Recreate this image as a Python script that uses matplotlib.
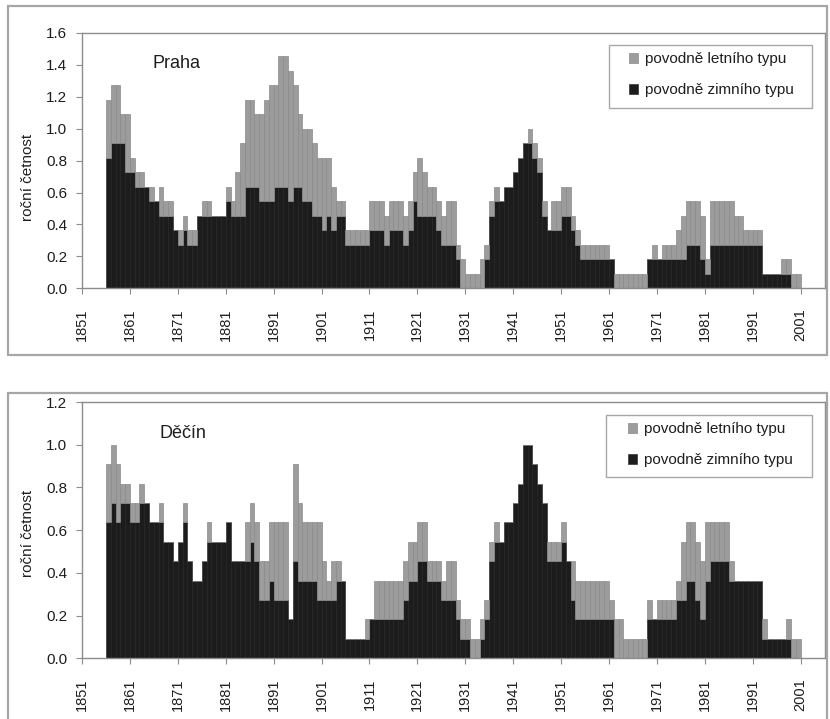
import matplotlib
matplotlib.use("Agg")
import matplotlib.pyplot as plt
from matplotlib.patches import Rectangle
import numpy as np

plt.rcParams['font.family'] = ['Liberation Sans', 'DejaVu Sans']

# ---- data: floods counted in a moving 11-year window (annual frequency = count / 11)
WINDOW = 11
years = list(range(1856, 2001))

praha_total = [
    13, 14, 14, 12, 12, 9, 8, 8, 7, 7, 6, 7, 6, 6, 4, 4, 5, 4, 4, 5,      # 1856-1875
    6, 6, 5, 5, 5, 7, 6, 8, 10, 13, 13, 12, 12, 13, 14, 14, 16, 16, 15, 14,  # 1876-1895
    12, 11, 11, 10, 9, 9, 9, 7, 6, 6, 4, 4, 4, 4, 4, 6, 6, 6, 5, 6,      # 1896-1915
    6, 6, 5, 6, 8, 9, 8, 7, 7, 6, 5, 6, 6, 3, 2, 1, 1, 1, 2, 3,          # 1916-1935
    6, 7, 6, 7, 7, 8, 9, 10, 11, 10, 9, 6, 4, 6, 6, 7, 7, 5, 4, 3,       # 1936-1955
    3, 3, 3, 3, 3, 2, 1, 1, 1, 1, 1, 1, 1, 2, 3, 2, 3, 3, 3, 4,          # 1956-1975
    5, 6, 6, 6, 5, 2, 6, 6, 6, 6, 6, 5, 5, 4, 4, 4, 4, 1, 1, 1,          # 1976-1995
    1, 2, 2, 1, 1,                                                       # 1996-2000
]
praha_winter = [
    9, 10, 10, 10, 8, 8, 7, 7, 7, 6, 6, 5, 5, 5, 4, 3, 4, 3, 3, 5,
    5, 5, 5, 5, 5, 6, 5, 5, 5, 7, 7, 7, 6, 6, 6, 7, 7, 7, 6, 7,
    7, 6, 6, 5, 5, 4, 5, 4, 5, 5, 3, 3, 3, 3, 3, 4, 4, 4, 3, 4,
    4, 4, 3, 4, 6, 5, 5, 5, 5, 4, 3, 3, 3, 2, 0, 0, 0, 0, 0, 2,
    5, 6, 6, 7, 7, 8, 9, 10, 10, 9, 8, 5, 4, 4, 4, 5, 5, 4, 3, 2,
    2, 2, 2, 2, 2, 2, 0, 0, 0, 0, 0, 0, 0, 2, 2, 2, 2, 2, 2, 2,
    2, 3, 3, 3, 2, 1, 3, 3, 3, 3, 3, 3, 3, 3, 3, 3, 3, 1, 1, 1,
    1, 1, 1, 0, 0,
]
decin_total = [
    10, 11, 10, 9, 9, 8, 8, 9, 8, 7, 7, 8, 6, 6, 5, 6, 8, 5, 4, 4,
    5, 7, 6, 6, 6, 7, 5, 5, 5, 7, 8, 7, 5, 5, 7, 7, 7, 7, 2, 10,
    8, 7, 7, 7, 7, 5, 4, 5, 5, 4, 1, 1, 1, 1, 2, 2, 4, 4, 4, 4,
    4, 4, 5, 6, 6, 7, 7, 5, 5, 5, 4, 5, 5, 3, 2, 2, 1, 1, 2, 3,
    6, 7, 6, 7, 7, 8, 9, 11, 11, 10, 9, 8, 6, 6, 6, 7, 5, 5, 4, 4,
    4, 4, 4, 4, 4, 3, 2, 2, 1, 1, 1, 1, 1, 3, 2, 3, 3, 3, 3, 4,
    6, 7, 7, 6, 5, 7, 7, 7, 7, 7, 5, 4, 4, 4, 4, 4, 4, 2, 1, 1,
    1, 1, 2, 1, 1,
]
decin_winter = [
    7, 8, 7, 8, 8, 7, 7, 8, 8, 7, 7, 7, 6, 6, 5, 6, 7, 5, 4, 4,
    5, 6, 6, 6, 6, 7, 5, 5, 5, 5, 6, 5, 3, 3, 4, 3, 3, 3, 2, 5,
    4, 4, 4, 4, 3, 3, 3, 3, 4, 4, 1, 1, 1, 1, 1, 2, 2, 2, 2, 2,
    2, 2, 3, 4, 4, 5, 5, 4, 4, 4, 3, 3, 3, 2, 1, 1, 0, 0, 1, 2,
    5, 6, 6, 7, 7, 8, 9, 11, 11, 10, 9, 8, 5, 5, 5, 6, 5, 3, 2, 2,
    2, 2, 2, 2, 2, 2, 0, 0, 0, 0, 0, 0, 0, 2, 2, 2, 2, 2, 2, 3,
    3, 4, 4, 3, 2, 4, 5, 5, 5, 5, 4, 4, 4, 4, 4, 4, 4, 1, 1, 1,
    1, 1, 1, 0, 0,
]

stations = ["Praha", "Děčín"]
ylims = [1.6, 1.2]
legend_labels = ["povodně letního typu", "povodně zimního typu"]
ylabel = "roční četnost"
xtick_years = list(range(1851, 2002, 10))

GRAY = "#9c9c9c"
BLACK = "#1c1c1c"
LINE = "#8c8c8c"
TXT = "#1e1e1e"

W, H = 830, 719
fig = plt.figure(figsize=(W / 100, H / 100), dpi=100)

def fx(px):
    return px / W

def fy(py):
    return 1 - py / H

# outer chart frames
for (x0, y0, x1, y1) in [(8, 6, 827, 355), (8, 393, 827, 730)]:
    fig.add_artist(Rectangle((fx(x0), fy(y1)), fx(x1) - fx(x0), fy(y0) - fy(y1),
                             transform=fig.transFigure, fill=False,
                             edgecolor="#a6a6a6", linewidth=1.6, clip_on=False))

axes_px = [(82, 33, 825, 288.3), (82, 402, 825, 658.3)]
series = [(praha_total, praha_winter), (decin_total, decin_winter)]
name_px = [(152, 63), (159, 433)]
ylabel_px = [(28, 177), (28, 533)]
legend_box_px = [(609, 45, 812, 108), (606, 415, 812, 477)]
legend_first_px = [(629, 52.5), (628, 422.5)]

for i, ((x0, y0, x1, y1), (tot, win)) in enumerate(zip(axes_px, series)):
    ax = fig.add_axes([fx(x0), fy(y1), fx(x1) - fx(x0), fy(y0) - fy(y1)])
    tot = np.array(tot) / WINDOW
    win = np.array(win) / WINDOW
    ax.bar(years, win, width=1.0, align="edge", color=BLACK, edgecolor=BLACK,
           linewidth=0.4, label=legend_labels[1], zorder=2)
    ax.bar(years, tot - win, bottom=win, width=1.0, align="edge", color=GRAY,
           edgecolor="#8a8a8a", linewidth=0.5, label=legend_labels[0], zorder=2)
    ax.set_xlim(1851, 2006.1)
    ax.set_ylim(0, ylims[i])
    yt = np.arange(0, ylims[i] + 0.01, 0.2)
    ax.set_yticks(yt)
    ax.set_yticklabels([f"{v:.1f}" for v in yt])
    ax.set_xticks(xtick_years)
    ax.set_xticklabels([str(y) for y in xtick_years], rotation=90)
    for s in ax.spines.values():
        s.set_color(LINE)
        s.set_linewidth(1.0)
    ax.tick_params(axis="both", colors=LINE, labelcolor=TXT,
                   length=4.5, width=0.8, direction="out")
    ax.tick_params(axis="y", labelsize=11, pad=6)
    ax.tick_params(axis="x", labelsize=10.5, pad=10)

    # y label and station name in pixel positions
    fig.text(fx(ylabel_px[i][0]), fy(ylabel_px[i][1]), ylabel, rotation=90,
             ha="center", va="center", fontsize=11, color=TXT)
    fig.text(fx(name_px[i][0]), fy(name_px[i][1]), stations[i],
             ha="left", va="center", fontsize=13, color=TXT)

    # legend frame
    bx0, by0, bx1, by1 = legend_box_px[i]
    fig.add_artist(Rectangle((fx(bx0), fy(by1)), fx(bx1) - fx(bx0), fy(by0) - fy(by1),
                             transform=fig.transFigure, facecolor="white",
                             edgecolor="#a8a8a8", linewidth=1.0, zorder=5))
    handles, labels = ax.get_legend_handles_labels()
    leg = fig.legend(handles[::-1], labels[::-1], loc="upper left",
                     bbox_to_anchor=(fx(legend_first_px[i][0]), fy(legend_first_px[i][1])),
                     fontsize=11, frameon=False, handlelength=0.6,
                     handleheight=0.6, handletextpad=0.45, labelspacing=1.1,
                     borderpad=0, borderaxespad=0)
    leg.set_zorder(6)
    for t in leg.get_texts():
        t.set_color(TXT)

fig.savefig("out.png", dpi=100, facecolor="white")
